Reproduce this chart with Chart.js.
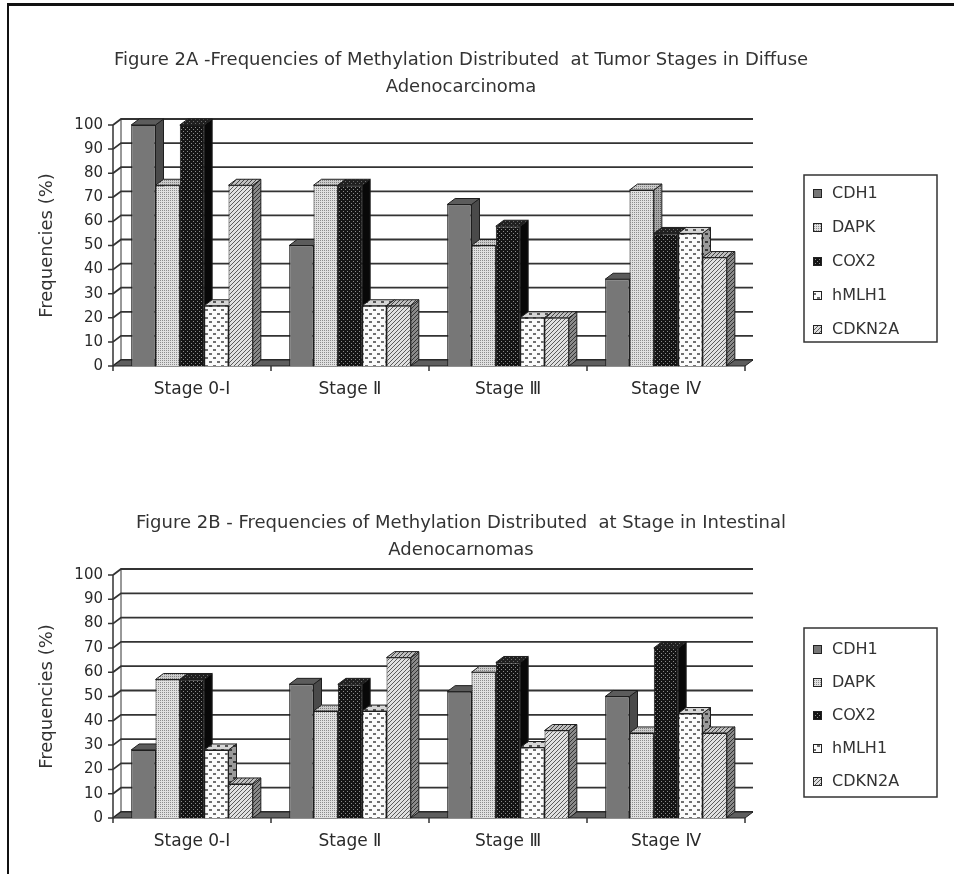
<!DOCTYPE html>
<html>
<head>
<meta charset="utf-8">
<script src="https://cdn.jsdelivr.net/npm/chart.js@4.4.1/dist/chart.umd.min.js"></script>
<style>
  html, body { margin: 0; padding: 0; background: #fff; }
  #page { position: relative; width: 954px; height: 874px; overflow: hidden; background: #fff; }
  #page canvas { position: absolute; left: 0; }
  #cA { top: 0; }
  #cB { top: 440px; }
  #frame { position: absolute; left: 7px; top: 3px; right: 0; bottom: 0;
           border-top: 3px solid #111; border-left: 2px solid #111; pointer-events: none; }
</style>
</head>
<body>
<div id="page">
  <canvas id="cA" width="954" height="440"></canvas>
  <canvas id="cB" width="954" height="434"></canvas>
  <div id="frame"></div>
</div>
<script>
// ---- data ----
const stages = ['Stage 0-Ⅰ', 'Stage Ⅱ', 'Stage Ⅲ', 'Stage Ⅳ'];
const genes = ['CDH1', 'DAPK', 'COX2', 'hMLH1', 'CDKN2A'];
const yTickStep = 10;
const yMax = 100;

// Figure 2A: diffuse adenocarcinoma (% methylated)
const diffuseCDH1   = [100, 50, 67, 36];
const diffuseDAPK   = [75, 75, 50, 73];
const diffuseCOX2   = [100, 75, 58, 55];
const diffuseHMLH1  = [25, 25, 20, 55];
const diffuseCDKN2A = [75, 25, 20, 45];

// Figure 2B: intestinal adenocarcinoma (% methylated)
const intestCDH1   = [28, 55, 52, 50];
const intestDAPK   = [57, 44, 60, 35];
const intestCOX2   = [57, 55, 64, 70];
const intestHMLH1  = [28, 44, 29, 43];
const intestCDKN2A = [14, 66, 36, 35];

const titleA = ['Figure 2A -Frequencies of Methylation Distributed  at Tumor Stages in Diffuse', 'Adenocarcinoma'];
const titleB = ['Figure 2B - Frequencies of Methylation Distributed  at Stage in Intestinal', 'Adenocarnomas'];
const yTitle = 'Frequencies (%)';

// ---- fill patterns ----
const scratch = document.createElement('canvas').getContext('2d');
function tile(w, h, paint) {
  const c = document.createElement('canvas');
  c.width = w; c.height = h;
  paint(c.getContext('2d'));
  return scratch.createPattern(c, 'repeat');
}
function dots(bg, fg) {
  return tile(4, 4, g => { g.fillStyle = bg; g.fillRect(0, 0, 4, 4); g.fillStyle = fg;
    g.fillRect(0, 0, 1, 1); g.fillRect(2, 2, 1, 1); g.fillRect(2, 0, 1, 1); g.fillRect(0, 2, 1, 1); });
}
function darkDots(bg, fg) {
  return tile(4, 4, g => { g.fillStyle = bg; g.fillRect(0, 0, 4, 4); g.fillStyle = fg;
    g.fillRect(1, 1, 1, 1); g.fillRect(3, 3, 1, 1); });
}
function dashes(bg, fg) {
  return tile(8, 8, g => { g.fillStyle = bg; g.fillRect(0, 0, 8, 8); g.fillStyle = fg;
    g.fillRect(1, 1, 3, 2); g.fillRect(5, 5, 3, 2); });
}
function hatch(bg, fg) {
  return tile(4, 4, g => { g.fillStyle = bg; g.fillRect(0, 0, 4, 4); g.fillStyle = fg;
    g.fillRect(3, 0, 1, 1); g.fillRect(2, 1, 1, 1); g.fillRect(1, 2, 1, 1); g.fillRect(0, 3, 1, 1); });
}

// front / side / top faces for each gene
const faces = [
  { front: '#777777', side: '#4a4a4a', top: '#5c5c5c' },
  { front: dots('#e0e0e0', '#8c8c8c'), side: dots('#a8a8a8', '#606060'), top: dots('#cccccc', '#808080') },
  { front: darkDots('#141414', '#8a8a8a'), side: '#080808', top: darkDots('#202020', '#6a6a6a') },
  { front: dashes('#fbfbfb', '#707070'), side: dashes('#9a9a9a', '#3a3a3a'), top: dashes('#d6d6d6', '#555') },
  { front: hatch('#e0e0e0', '#5a5a5a'), side: hatch('#8a8a8a', '#333'), top: hatch('#c0c0c0', '#444') }
];

// ---- oblique depth: walls, floor, bar sides/tops ----
const DX = 8, DY = -6;
const depth3d = {
  id: 'depth3d',
  beforeDatasetsDraw(chart) {
    const { ctx, chartArea: a, scales: { x, y } } = chart;
    ctx.save();
    // back wall grid lines with their diagonal on the side wall
    ctx.strokeStyle = '#333';
    ctx.lineWidth = 1.8;
    y.ticks.forEach(t => {
      const py = y.getPixelForValue(t.value);
      ctx.beginPath();
      ctx.moveTo(a.left, py);
      ctx.lineTo(a.left + DX, py + DY);
      ctx.lineTo(a.right + DX, py + DY);
      ctx.stroke();
    });
    // back edge of the side wall
    ctx.lineWidth = 1;
    ctx.beginPath();
    ctx.moveTo(a.left + DX, y.getPixelForValue(yMax) + DY);
    ctx.lineTo(a.left + DX, a.bottom + DY);
    ctx.stroke();
    // floor
    ctx.beginPath();
    ctx.moveTo(a.left, a.bottom);
    ctx.lineTo(a.right, a.bottom);
    ctx.lineTo(a.right + DX, a.bottom + DY);
    ctx.lineTo(a.left + DX, a.bottom + DY);
    ctx.closePath();
    ctx.fillStyle = '#5e5e5e';
    ctx.fill();
    ctx.strokeStyle = '#222';
    ctx.stroke();
    // front value axis with outer ticks
    ctx.lineWidth = 1.5;
    ctx.strokeStyle = '#333';
    ctx.beginPath();
    ctx.moveTo(a.left, y.getPixelForValue(yMax));
    ctx.lineTo(a.left, a.bottom);
    y.ticks.forEach(t => {
      const py = y.getPixelForValue(t.value);
      ctx.moveTo(a.left - 5, py);
      ctx.lineTo(a.left, py);
    });
    // category boundary ticks
    const n = chart.data.labels.length;
    const cw = (a.right - a.left) / n;
    for (let i = 0; i <= n; i++) {
      const px = a.left + i * cw;
      ctx.moveTo(px, a.bottom);
      ctx.lineTo(px, a.bottom + 5);
    }
    ctx.stroke();

    // side and top faces, left to right so neighbours overlap correctly
    ctx.lineWidth = 1;
    ctx.strokeStyle = '#1e1e1e';
    const metas = chart.data.datasets.map((d, i) => chart.getDatasetMeta(i));
    for (let j = 0; j < n; j++) {
      metas.forEach((m, i) => {
        const el = m.data[j];
        const { x: cx, y: top, base, width } = el.getProps(['x', 'y', 'base', 'width'], true);
        const l = cx - width / 2, r = cx + width / 2;
        ctx.beginPath();
        ctx.moveTo(r, top); ctx.lineTo(r + DX, top + DY);
        ctx.lineTo(r + DX, base + DY); ctx.lineTo(r, base);
        ctx.closePath();
        ctx.fillStyle = faces[i].side; ctx.fill(); ctx.stroke();
        ctx.beginPath();
        ctx.moveTo(l, top); ctx.lineTo(l + DX, top + DY);
        ctx.lineTo(r + DX, top + DY); ctx.lineTo(r, top);
        ctx.closePath();
        ctx.fillStyle = faces[i].top; ctx.fill(); ctx.stroke();
      });
    }
    ctx.restore();
  },
  afterDraw(chart) {
    const o = chart.options.plugins.depth3d;
    const { ctx } = chart;
    ctx.save();
    // two-line heading
    ctx.font = '18px "DejaVu Sans"';
    ctx.fillStyle = '#333';
    ctx.textAlign = 'center';
    ctx.textBaseline = 'middle';
    o.heading.forEach((line, k) => ctx.fillText(line, o.headingX, o.headingY + k * o.headingGap));
    // boxed legend
    const L = o.legendBox;
    ctx.strokeStyle = '#333';
    ctx.lineWidth = 1.5;
    ctx.strokeRect(L.x, L.y, L.w, L.h);
    ctx.font = '16px "DejaVu Sans"';
    ctx.textAlign = 'left';
    ctx.lineWidth = 1;
    chart.data.datasets.forEach((d, i) => {
      const yy = L.first + i * L.step;
      ctx.fillStyle = faces[i].front;
      ctx.fillRect(L.x + 9, yy - 5, 9, 9);
      ctx.strokeStyle = '#222';
      ctx.strokeRect(L.x + 9.5, yy - 4.5, 8, 8);
      ctx.fillStyle = '#333';
      ctx.fillText(d.label, L.x + 28, yy);
    });
    ctx.restore();
  }
};

function makeChart(id, series, heading, layout) {
  const datasets = series.map((vals, i) => ({
    label: genes[i],
    data: vals,
    backgroundColor: faces[i].front,
    borderColor: '#1e1e1e',
    borderWidth: 1,
    borderSkipped: 'start',
    categoryPercentage: 0.77,
    barPercentage: 1.0
  }));
  return new Chart(document.getElementById(id), {
    type: 'bar',
    data: { labels: stages, datasets },
    options: {
      responsive: false,
      animation: false,
      devicePixelRatio: 1,
      layout: { padding: layout.padding },
      plugins: {
        legend: { display: false },
        title: { display: false },
        tooltip: { enabled: false },
        depth3d: {
          heading,
          headingX: 461,
          headingY: layout.headingY,
          headingGap: 27,
          legendBox: layout.legendBox
        }
      },
      scales: {
        x: {
          grid: { display: false, drawTicks: false },
          border: { display: false },
          ticks: { color: '#2a2a2a', padding: 13,
                   font: { family: '"DejaVu Sans", "Noto Sans CJK JP"', size: 17 } },
          afterFit: s => { s.height = 40; }
        },
        y: {
          min: 0, max: yMax,
          grid: { display: false, drawTicks: false },
          border: { display: false },
          ticks: { stepSize: yTickStep, color: '#2a2a2a', padding: 10,
                   font: { family: '"DejaVu Sans"', size: 15 } },
          title: { display: true, text: yTitle, color: '#333',
                   font: { family: '"DejaVu Sans"', size: 18 },
                   padding: { top: 17, bottom: 0 } },
          afterFit: s => { s.width = 93; }
        }
      }
    },
    plugins: [depth3d]
  });
}

makeChart('cA',
  [diffuseCDH1, diffuseDAPK, diffuseCOX2, diffuseHMLH1, diffuseCDKN2A],
  titleA,
  { padding: { left: 20, right: 209, top: 125, bottom: 34 },
    headingY: 60,
    legendBox: { x: 804, y: 175, w: 133, h: 167, first: 194, step: 34 } });

makeChart('cB',
  [intestCDH1, intestDAPK, intestCOX2, intestHMLH1, intestCDKN2A],
  titleB,
  { padding: { left: 20, right: 209, top: 135, bottom: 16 },
    headingY: 83,
    legendBox: { x: 804, y: 188, w: 133, h: 169, first: 210, step: 33 } });
</script>
</body>
</html>
